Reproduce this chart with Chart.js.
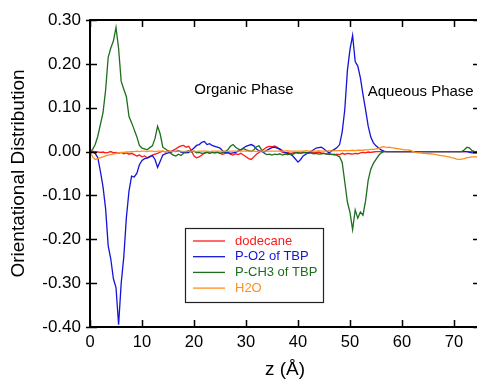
<!DOCTYPE html>
<html>
<head>
<meta charset="utf-8">
<script src="https://cdn.jsdelivr.net/npm/chart.js@4.4.0/dist/chart.umd.min.js"></script>
<style>
  html, body { margin: 0; padding: 0; overflow: hidden; background: #fff; }
  #wrap { width: 482px; height: 381px; position: relative; }
</style>
</head>
<body>
<div id="wrap"><canvas id="myChart"></canvas></div>
<script>
// z positions (Angstrom)
const zValues = [
  0, 0.5, 1, 1.5, 2, 2.5, 3, 3.5, 4, 4.5,
  5, 5.5, 6, 6.5, 7, 7.5, 8, 8.5, 9, 9.5,
  10, 10.5, 11, 11.5, 12, 12.5, 13, 13.5, 14, 14.5,
  15, 15.5, 16, 16.5, 17, 17.5, 18, 18.5, 19, 19.5,
  20, 20.5, 21, 21.5, 22, 22.5, 23, 23.5, 24, 24.5,
  25, 25.5, 26, 26.5, 27, 27.5, 28, 28.5, 29, 29.5,
  30, 30.5, 31, 31.5, 32, 32.5, 33, 33.5, 34, 34.5,
  35, 35.5, 36, 36.5, 37, 37.5, 38, 38.5, 39, 39.5,
  40, 40.5, 41, 41.5, 42, 42.5, 43, 43.5, 44, 44.5,
  45, 45.5, 46, 46.5, 47, 47.5, 48, 48.5, 49, 49.5,
  50, 50.5, 51, 51.5, 52, 52.5, 53, 53.5, 54, 54.5,
  55, 55.5, 56, 56.5, 57, 57.5, 58, 58.5, 59, 59.5,
  60, 60.5, 61, 61.5, 62, 62.5, 63, 63.5, 64, 64.5,
  65, 65.5, 66, 66.5, 67, 67.5, 68, 68.5, 69, 69.5,
  70, 70.5, 71, 71.5, 72, 72.5, 73, 73.5, 74, 74.5,
  75
];

const dodecane = [
  0, 0.001, 0.0, -0.001, -0.002, -0.001, -0.003, -0.002, 0.0, -0.003,
  -0.002, -0.004, -0.002, -0.005, -0.003, -0.006, -0.004, -0.007, -0.01, -0.008,
  -0.012, -0.01, -0.014, -0.011, -0.008, -0.006, -0.004, -0.001, 0.001, -0.001,
  0.002, 0.0, 0.003, 0.006, 0.01, 0.013, 0.014, 0.01, 0.012, 0.002,
  -0.01, -0.014, -0.012, -0.008, -0.004, -0.002, -0.004, -0.001, -0.003, -0.002,
  -0.004, -0.006, -0.004, -0.003, -0.006, -0.008, -0.005, -0.007, -0.004, -0.008,
  -0.012, -0.016, -0.018, -0.012, -0.006, -0.002, 0.002, 0.006, 0.01, 0.012,
  0.011, 0.013, 0.01, 0.004, -0.002, -0.003, -0.002, -0.004, -0.003, -0.002,
  -0.004, -0.003, -0.001, -0.003, -0.002, -0.001, -0.003, -0.002, -0.001, -0.003,
  -0.004, -0.005, -0.007, -0.006, -0.008, -0.006, -0.007, -0.004, -0.006, -0.004,
  -0.005, -0.006, -0.004, -0.005, -0.003, -0.002, -0.003, -0.001, -0.002, -0.001,
  0, 0, 0, 0, 0, 0, 0, 0, 0, 0,
  0, 0, 0, 0, 0, 0, 0, 0, 0, 0,
  0, 0, 0, 0, 0, 0, 0, 0, 0, 0,
  0, 0, 0, 0, 0, 0, 0, 0, 0, 0,
  0
];

const pO2 = [
  0, -0.001, -0.004, -0.014, -0.045, -0.08, -0.13, -0.215, -0.245, -0.29,
  -0.31, -0.395, -0.30, -0.24, -0.15, -0.09, -0.056, -0.058, -0.05, -0.03,
  -0.02, -0.016, -0.015, -0.012, -0.009, -0.018, -0.036, -0.022, -0.008, -0.005,
  -0.003, -0.002, 0.001, 0.0, 0.002, -0.001, -0.002, -0.003, -0.002, 0.003,
  0.008, 0.014, 0.016, 0.021, 0.023, 0.016, 0.018, 0.014, 0.012, 0.01,
  0.008, 0.002, -0.003, -0.002, -0.004, -0.003, -0.002, 0.001, 0.004, 0.008,
  0.012, 0.014, 0.016, 0.013, 0.006, 0.002, 0.0, -0.001, 0.003, 0.006,
  0.009, 0.01, 0.008, 0.006, 0.002, -0.002, -0.004, -0.006, -0.01, -0.017,
  -0.024, -0.018, -0.01, -0.006, -0.003, 0.0, 0.004, 0.008, 0.009, 0.01,
  0.006, 0.001, -0.003, 0.002, 0.005, 0.009, 0.016, 0.045, 0.096, 0.185,
  0.233, 0.265, 0.205, 0.195, 0.168, 0.13, 0.095, 0.058, 0.033, 0.02,
  0.013, 0.008, 0.004, 0.001, 0, 0, 0, 0, 0, 0,
  0, 0, 0, 0, 0, 0, 0, 0, 0, 0,
  0, 0, 0, 0, 0, 0, 0, 0, 0, 0,
  0, 0, 0, 0, 0, 0, -0.002, -0.003, -0.003, -0.003,
  -0.003
];

const pCH3 = [
  0, 0.005, 0.016, 0.035, 0.062, 0.088, 0.14, 0.215, 0.236, 0.252,
  0.283, 0.235, 0.16, 0.142, 0.125, 0.08, 0.066, 0.05, 0.034, 0.014,
  0.008, 0.006, 0.004, 0.009, 0.013, 0.03, 0.058, 0.04, 0.01, 0.006,
  0.002, -0.004, -0.008, -0.01, -0.006, -0.009, -0.004, 0.0, 0.002, -0.001,
  0.001, -0.003, -0.002, -0.004, -0.003, -0.001, -0.004, -0.002, -0.003, -0.001,
  -0.004, -0.002, 0.0, 0.004, 0.012, 0.016, 0.01, 0.006, 0.003, 0.007,
  0.004, 0.002, 0.0, 0.004, 0.011, 0.013, 0.004, -0.004, -0.007, -0.006,
  -0.008, -0.006, -0.007, -0.005, -0.008, -0.006, -0.007, -0.005, -0.006, -0.003,
  -0.002, -0.004, -0.003, -0.002, -0.004, -0.003, -0.005, -0.004, -0.006, -0.005,
  -0.004, -0.006, -0.005, -0.007, -0.006, -0.009, -0.012, -0.025, -0.07, -0.115,
  -0.139, -0.178, -0.133, -0.152, -0.138, -0.145, -0.112, -0.065, -0.04, -0.027,
  -0.018, -0.009, -0.003, 0, 0, 0, 0, 0, 0, 0,
  0, 0, 0, 0, 0, 0, 0, 0, 0, 0,
  0, 0, 0, 0, 0, 0, 0, 0, 0, 0,
  0, 0, 0, 0, 0.004, 0.01, 0.008, 0.002, 0, 0,
  0
];

const water = [
  0, -0.012, -0.018, -0.016, -0.014, -0.012, -0.01, -0.008, -0.007, -0.005,
  -0.004, -0.003, -0.002, -0.002, -0.001, -0.001, 0, 0, 0.001, 0,
  0.001, 0.001, 0, 0.001, 0.001, 0, 0.001, 0.001, 0.001, 0,
  0.001, 0.001, 0, 0.001, 0.001, 0.001, 0, 0.001, 0.001, 0.001,
  0.001, 0, 0.001, 0.001, 0.001, 0.001, 0, 0.001, 0.001, 0.001,
  0.001, 0.001, 0.001, 0, 0.001, 0.001, 0.001, 0.001, 0.001, 0.001,
  0.001, 0.001, 0.001, 0.001, 0, 0.001, 0.001, 0.001, 0.001, 0.001,
  0.001, 0.001, 0.001, 0.001, 0.001, 0.001, 0.002, 0.001, 0.001, 0.001,
  0.001, 0.001, 0.001, 0.002, 0.001, 0.001, 0.001, 0.001, 0.002, 0.001,
  0.001, 0.001, 0.002, 0.001, 0.002, 0.002, 0.002, 0.002, 0.002, 0.002,
  0.002, 0.003, 0.002, 0.003, 0.003, 0.003, 0.004, 0.004, 0.005, 0.005,
  0.006, 0.007, 0.01, 0.011, 0.009, 0.01, 0.009, 0.008, 0.007, 0.006,
  0.005, 0.004, 0.004, 0.003, 0.001, -0.002, -0.003, -0.003, -0.004, -0.004,
  -0.005, -0.005, -0.006, -0.007, -0.008, -0.009, -0.01, -0.011, -0.012, -0.014,
  -0.015, -0.017, -0.018, -0.017, -0.016, -0.014, -0.013, -0.012, -0.012, -0.012,
  -0.012
];

const seriesNames = ["dodecane", "P-O2 of TBP", "P-CH3 of TBP", "H2O"];
const seriesColors = ["#ff1a1a", "#1414d8", "#1e6e1e", "#ff8f1f"];
const xTickValues = [0, 10, 20, 30, 40, 50, 60, 70];
const yTickValues = [-0.4, -0.3, -0.2, -0.1, 0, 0.1, 0.2, 0.3];
const phaseLabels = [
  { text: "Organic Phase", z: 29.6, v: 0.141 },
  { text: "Aqueous Phase", z: 63.6, v: 0.137 }
];

const FONT = "'Liberation Sans', Arial, sans-serif";

const toPoints = (arr) => zValues.map((z, i) => ({ x: z, y: arr[i] }));

const allSeries = [dodecane, pO2, pCH3, water];
const drawOrder = [3, 2, 1, 0]; // orange on top, red at the bottom

const datasets = allSeries.map((arr, i) => ({
  label: seriesNames[i],
  data: toPoints(arr),
  borderColor: seriesColors[i],
  borderWidth: 1.3,
  pointRadius: 0,
  tension: 0,
  fill: false,
  order: drawOrder[i]
}));

// frame, inner ticks, phase labels and legend box
const decorations = {
  id: "decorations",
  afterDraw(chart) {
    const { ctx, chartArea: a, scales } = chart;
    const x = scales.x, y = scales.y;
    ctx.save();

    ctx.strokeStyle = "#000";
    ctx.lineWidth = 2;
    ctx.strokeRect(a.left, a.top, a.right - a.left, a.bottom - a.top);

    ctx.lineWidth = 1.5;
    ctx.beginPath();
    x.ticks.forEach((t) => {
      const px = Math.round(x.getPixelForValue(t.value)) + 0.5;
      ctx.moveTo(px, a.bottom);
      ctx.lineTo(px, a.bottom - 7);
      ctx.moveTo(px, a.top);
      ctx.lineTo(px, a.top + 7);
    });
    y.ticks.forEach((t) => {
      const py = Math.round(y.getPixelForValue(t.value)) + 0.5;
      ctx.moveTo(a.left - 4, py);
      ctx.lineTo(a.left + 7, py);
      ctx.moveTo(a.right, py);
      ctx.lineTo(a.right - 7, py);
    });
    ctx.stroke();

    ctx.fillStyle = "#000";
    ctx.font = "15px " + FONT;
    ctx.textAlign = "center";
    ctx.textBaseline = "middle";
    phaseLabels.forEach((p) => {
      ctx.fillText(p.text, x.getPixelForValue(p.z), y.getPixelForValue(p.v));
    });

    // legend
    const bx = 185, by = 228, bw = 138, bh = 74;
    ctx.fillStyle = "#fff";
    ctx.fillRect(bx, by, bw, bh);
    ctx.strokeStyle = "#222";
    ctx.lineWidth = 1.2;
    ctx.strokeRect(bx + 0.5, by + 0.5, bw, bh);
    ctx.font = "13px " + FONT;
    ctx.textAlign = "left";
    chart.data.datasets.forEach((ds, i) => {
      const ry = by + 13 + i * 15.7;
      ctx.strokeStyle = ds.borderColor;
      ctx.lineWidth = 1.3;
      ctx.beginPath();
      ctx.moveTo(bx + 8, ry);
      ctx.lineTo(bx + 40, ry);
      ctx.stroke();
      ctx.fillStyle = ds.borderColor;
      ctx.fillText(ds.label, bx + 50, ry);
    });

    ctx.restore();
  }
};

const charter = document.querySelector("#myChart");

const myChart = new Chart(charter, {
  type: "line",
  data: { datasets },
  options: {
    responsive: true,
    maintainAspectRatio: false,
    animation: false,
    devicePixelRatio: 1,
    layout: { padding: { top: 20, right: 2, left: 0, bottom: 0 } },
    plugins: {
      legend: { display: false },
      tooltip: { enabled: false }
    },
    scales: {
      x: {
        type: "linear",
        min: 0,
        max: 75,
        afterBuildTicks: (s) => { s.ticks = xTickValues.map((v) => ({ value: v })); },
        afterFit: (s) => { s.height = 54; },
        grid: { display: false, drawTicks: false },
        border: { display: false },
        ticks: {
          color: "#000",
          padding: 6,
          font: { size: 16.5, family: FONT },
          callback: (v) => String(v)
        },
        title: {
          display: true,
          text: "z (Å)",
          color: "#000",
          font: { size: 19, family: FONT },
          padding: { top: 0, bottom: 0 }
        }
      },
      y: {
        type: "linear",
        min: -0.4,
        max: 0.3,
        afterBuildTicks: (s) => { s.ticks = yTickValues.map((v) => ({ value: v })); },
        afterFit: (s) => { s.width = 90; },
        grid: { display: false, drawTicks: false },
        border: { display: false },
        ticks: {
          color: "#000",
          padding: 9,
          font: { size: 17, family: FONT },
          callback: (v) => Number(v).toFixed(2)
        },
        title: {
          display: true,
          text: "Orientational Distribution",
          color: "#000",
          font: { size: 19, family: FONT },
          padding: { top: 7, bottom: 0 }
        }
      }
    }
  },
  plugins: [decorations]
});
</script>
</body>
</html>
